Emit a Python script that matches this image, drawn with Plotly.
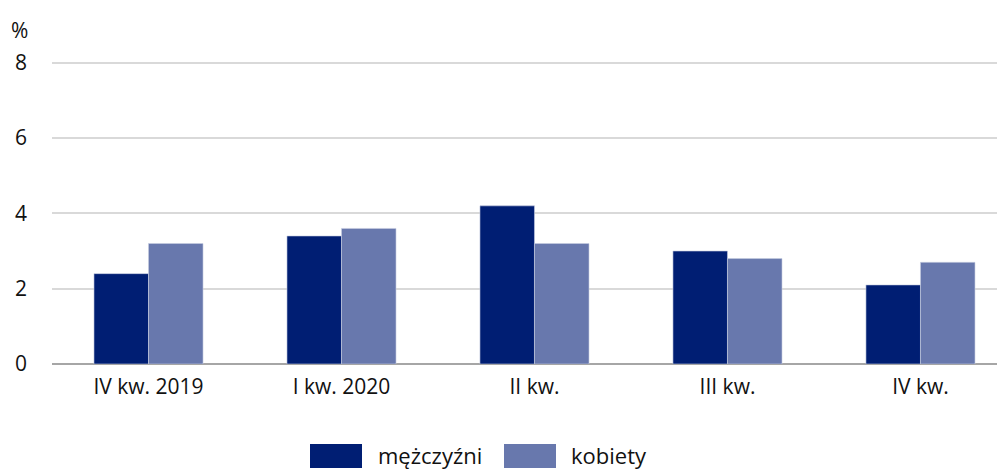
import plotly.graph_objects as go

categories = ["IV kw. 2019", "I kw. 2020", "II kw.", "III kw.", "IV kw."]
men = [2.4, 3.4, 4.2, 3.0, 2.1]
women = [3.2, 3.6, 3.2, 2.8, 2.7]
series_names = ["mężczyźni", "kobiety"]
y_ticks = [0, 2, 4, 6, 8]

DARK = "#001E73"
LIGHT = "#6878AD"
FONT = "Open Sans"
FS = 21

# page has an 8px body margin; figure sized to fit the window
OFF = 8
W, H = 1005 - OFF, 470 - OFF
YMAX = 8.1
PH = round(301 * YMAX / 8)
L, PW = 52 - OFF, 953
T = 364 - OFF - PH


def px(x):
    return (x - OFF - L) / PW


def py(y):
    return (T + PH - (y - OFF)) / PH


fig = go.Figure()
fig.add_trace(go.Bar(x=list(range(len(categories))), y=men, name=series_names[0],
                     marker=dict(color=DARK, line=dict(color="#C8CEE0", width=0.6)),
                     showlegend=False))
fig.add_trace(go.Bar(x=list(range(len(categories))), y=women, name=series_names[1],
                     marker=dict(color=LIGHT, line=dict(color="#C8CEE0", width=0.6)),
                     showlegend=False))

fig.update_layout(
    width=W, height=H,
    margin=dict(l=L, r=W - L - PW, t=T, b=H - T - PH, autoexpand=False),
    paper_bgcolor="white", plot_bgcolor="white",
    barmode="group", bargap=0.435, bargroupgap=0,
    font=dict(family=FONT, size=FS, color="#111111"),
    xaxis=dict(range=[-0.5, 4.438], tickmode="array",
               tickvals=list(range(len(categories))), ticktext=categories,
               showgrid=False, zeroline=False, showline=False, ticks="",
               ticklabelstandoff=8, automargin=False,
               tickfont=dict(family=FONT, size=FS, color="#111111")),
    yaxis=dict(range=[0, YMAX], tickvals=y_ticks, showgrid=True, gridcolor="#D9D9D9",
               gridwidth=1.5, zeroline=True, zerolinecolor="#A6A6A6", zerolinewidth=1.5,
               ticks="", ticklabelstandoff=24, showline=False, automargin=False,
               tickfont=dict(family=FONT, size=FS, color="#111111")),
)

fig.add_annotation(x=px(9), y=py(30), xref="paper", yref="paper", text="%",
                   showarrow=False, xanchor="left", yanchor="middle",
                   font=dict(size=FS))

# custom legend
legend_items = [(310, 362, 376, DARK, series_names[0]), (504, 556, 569, LIGHT, series_names[1])]
for x0, x1, tx, col, name in legend_items:
    fig.add_shape(type="rect", xref="paper", yref="paper",
                  x0=px(x0), x1=px(x1), y0=py(468), y1=py(444),
                  fillcolor=col, line=dict(width=0))
    fig.add_annotation(x=px(tx), y=py(455), xref="paper", yref="paper",
                       text=name, showarrow=False, xanchor="left", yanchor="middle",
                       font=dict(size=FS + 1))

fig.write_html("out.html")
